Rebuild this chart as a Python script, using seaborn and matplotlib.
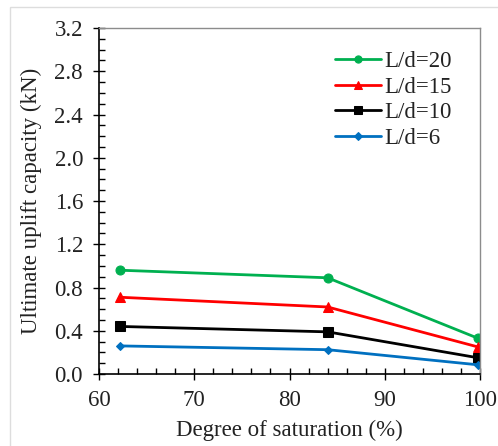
import seaborn as sns
import matplotlib.pyplot as plt
import matplotlib.patches as patches
import pandas as pd
from matplotlib.ticker import MultipleLocator

# data
saturation = [62.2, 84.0, 99.8]
ld20 = [0.96, 0.89, 0.33]
ld15 = [0.71, 0.62, 0.25]
ld10 = [0.44, 0.39, 0.15]
ld6 = [0.26, 0.225, 0.085]

labels = ['L/d=20', 'L/d=15', 'L/d=10', 'L/d=6']
colors = ['#00b050', '#ff0000', '#000000', '#0070c0']
markers = ['o', '^', 's', 'D']
msizes = [6.5, 6.5, 6.5, 4.5]

sns.set_style('ticks')
plt.rcParams['font.family'] = ['Liberation Serif', 'DejaVu Serif']

fig = plt.figure(figsize=(4.98, 4.46), dpi=100)
ax = fig.add_axes([0.1988, 0.1614, 0.7651, 0.7758])

for lab, vals, c, m, ms in zip(labels, [ld20, ld15, ld10, ld6], colors, markers, msizes):
    df = pd.DataFrame({'x': saturation, 'y': vals})
    sns.lineplot(data=df, x='x', y='y', ax=ax, color=c, marker=m, markersize=ms,
                 markeredgecolor=c, linewidth=2, label=lab)

ax.set_xlim(60, 100)
ax.set_ylim(0, 3.2)
ax.xaxis.set_major_locator(MultipleLocator(10))
ax.xaxis.set_minor_locator(MultipleLocator(2))
ax.yaxis.set_major_locator(MultipleLocator(0.4))
ax.yaxis.set_minor_locator(MultipleLocator(0.1))
ax.yaxis.set_major_formatter(plt.FormatStrFormatter('%.1f'))

ax.tick_params(which='major', direction='inout', length=9, width=1, color='black',
               labelsize=16.5, labelcolor='#222222', pad=7)
ax.tick_params(which='minor', direction='in', length=4, width=1, color='black')

for s in ['left', 'bottom']:
    ax.spines[s].set_color('black')
    ax.spines[s].set_linewidth(1.2)
for s in ['top', 'right']:
    ax.spines[s].set_color('#8c8c8c')
    ax.spines[s].set_linewidth(1)

ax.set_xlabel('Degree of saturation (%)', fontsize=16.5, color='#222222', labelpad=6)
ax.set_ylabel('Ultimate uplift capacity (kN)', fontsize=16.5, color='#222222', labelpad=9)

leg = ax.legend(loc='upper left', bbox_to_anchor=(0.595, 0.96), frameon=False,
                fontsize=16.5, handlelength=2.0, handletextpad=0.15, labelspacing=0.2,
                borderaxespad=0, markerscale=0.8)
for t in leg.get_texts():
    t.set_color('#222222')

# faint outer frame like the source image
fig.patches.append(patches.Rectangle((10 / 498, -0.1), 1.2, 1.1 - 7 / 446,
                                     transform=fig.transFigure, fill=False,
                                     edgecolor='#dddddd', linewidth=1))

fig.savefig('out.png', dpi=100)
